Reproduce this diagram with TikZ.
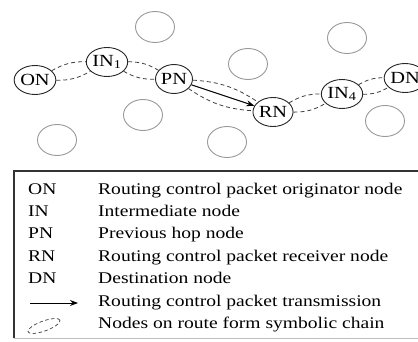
\documentclass[tikz,border=0pt]{standalone}
\usepackage{fontspec}
\setmainfont{Liberation Serif}
\usetikzlibrary{shapes.geometric}
\usetikzlibrary{arrows.meta}
\newcommand{\wtxt}[1]{\scalebox{1.2}[1]{#1}}
\tikzset{
    routenode/.style={ellipse,draw=black!85,line width=0.9pt,minimum width=37pt,minimum height=29pt,inner sep=0pt,font=\fontsize{17}{19}\selectfont},
    idlenode/.style={ellipse,draw=black!40,line width=0.9pt,minimum width=39pt,minimum height=31pt,inner sep=0pt},
    chain/.style={draw=black!75,line width=0.8pt,dash pattern=on 4pt off 3pt},
    txarrow/.style={draw=black,line width=1pt,-{Stealth[length=8pt,width=6pt]}},
    legtext/.style={anchor=base west,inner sep=0pt,font=\fontsize{16.3}{18}\selectfont}
}
\begin{document}
\begin{tikzpicture}[x=1pt,y=1pt]
        %    \draw [help lines] (0,0) grid (418,341);
        \useasboundingbox (0,0) rectangle (418,341);
        \fill [white] (0,0) rectangle (418,341);

        \path node (e1) [idlenode] at (155,314) {};
        \path node (e2) [idlenode] at (248,277) {};
        \path node (e3) [idlenode] at (347,303) {};
        \path node (e4) [idlenode] at (143,226) {};
        \path node (e5) [idlenode] at (57,201) {};
        \path node (e6) [idlenode] at (227,199) {};
        \path node (e7) [idlenode] at (385,220) {};

        \path node (on) [routenode] at (35,261) {\wtxt{ON}};
        \path node (in1) [routenode] at (107,279) {\wtxt{IN\textsubscript{1}}};
        \path node (pn) [routenode] at (174,262) {\wtxt{PN}};
        \path node (rn) [routenode] at (273,229) {\wtxt{RN}};
        \path node (in4) [routenode] at (342,247) {\wtxt{IN\textsubscript{4}}};
        \path node (dn) [routenode] at (405,263) {\wtxt{DN}};

        \draw[chain] (on) to[bend left=15] (in1);
        \draw[chain] (on) to[bend right=15] (in1);
        \draw[chain] (in1) to[bend left=15] (pn);
        \draw[chain] (in1) to[bend right=15] (pn);
        \draw[chain] (pn) to[bend left=15] (rn);
        \draw[chain] (pn) to[bend right=15] (rn);
        \draw[chain] (rn) to[bend left=15] (in4);
        \draw[chain] (rn) to[bend right=15] (in4);
        \draw[chain] (in4) to[bend left=15] (dn);
        \draw[chain] (in4) to[bend right=15] (dn);

        \draw[txarrow] (pn) -- (rn);

        \draw[black!80,line width=1.5pt] (14,3) -- (14,170) -- (420,170);
        \draw[black!25,line width=0.8pt] (14,3) -- (420,3);

        \foreach \i/\a/\t in {0/ON/Routing control packet originator node,
                              1/IN/Intermediate node,
                              2/PN/Previous hop node,
                              3/RN/Routing control packet receiver node,
                              4/DN/Destination node,
                              5//Routing control packet transmission,
                              6//Nodes on route form symbolic chain}
        {
            \path node (a\i) [legtext] at (28,147-22.4*\i) {\wtxt{\a}};
            \path node (t\i) [legtext] at (98,147-22.4*\i) {\wtxt{\t}};
        }

        \coordinate (arrs) at (30,38);
        \coordinate (arre) at (78,38);
        \draw[txarrow] (arrs) -- (arre);
        \draw[chain,line width=0.7pt,dash pattern=on 3.5pt off 2.5pt] (44,15) ellipse [x radius=17,y radius=5,rotate=20];
\end{tikzpicture}
\end{document}
